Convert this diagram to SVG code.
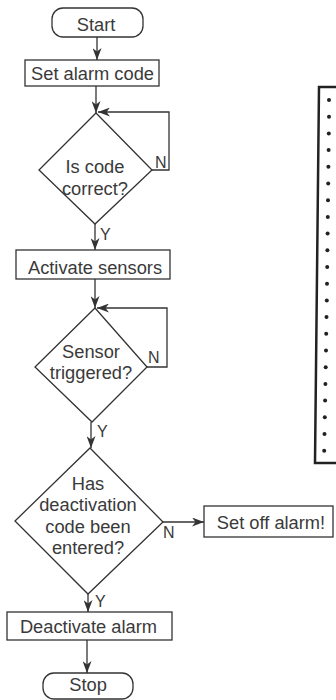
<svg xmlns="http://www.w3.org/2000/svg" width="336" height="700" viewBox="0 0 336 700">
<style>
.box{fill:#fff;stroke:#333;stroke-width:1.3}
.t{font-family:"Liberation Sans",Arial,sans-serif;font-size:18.3px;fill:#3a3a3a;text-anchor:middle}
.l{font-family:"Liberation Sans",Arial,sans-serif;font-size:16px;fill:#3a3a3a}
.c{fill:none;stroke:#333;stroke-width:1.3}
.dot{fill:#222}
</style>
<defs>
<marker id="ah" markerUnits="userSpaceOnUse" markerWidth="12" markerHeight="9" refX="12" refY="4.5" orient="auto">
<path d="M0,0 L12,4.5 L0,9 L3.5,4.5 Z" fill="#333"/>
</marker>
</defs>
<rect width="336" height="700" fill="#fff"/>

<g id="panel">
<path d="M340,87 L319,87 L315,463 L340,463" fill="none" stroke="#222" stroke-width="2.5"/>
<g class="dot">
<circle cx="329" cy="100" r="2"/><circle cx="329" cy="116.7" r="2"/><circle cx="328.8" cy="133.4" r="2"/><circle cx="328.6" cy="150.1" r="2"/>
<circle cx="328.4" cy="166.8" r="2"/><circle cx="328.2" cy="183.5" r="2"/><circle cx="328" cy="200.2" r="2"/><circle cx="327.8" cy="216.9" r="2"/>
<circle cx="327.6" cy="233.6" r="2"/><circle cx="327.4" cy="250.3" r="2"/><circle cx="327.2" cy="267" r="2"/><circle cx="327" cy="283.7" r="2"/>
<circle cx="326.8" cy="300.4" r="2"/><circle cx="326.5" cy="317.1" r="2"/><circle cx="326.2" cy="333.8" r="2"/><circle cx="326" cy="350.5" r="2"/>
<circle cx="325.7" cy="367.2" r="2"/><circle cx="325.4" cy="383.9" r="2"/><circle cx="325.1" cy="400.6" r="2"/><circle cx="324.8" cy="417.3" r="2"/>
<circle cx="324.5" cy="434" r="2"/><circle cx="324.2" cy="450.7" r="2"/>
</g>
</g>

<g id="connectors">
<line class="c" x1="97" y1="37" x2="97" y2="60" marker-end="url(#ah)"/>
<line class="c" x1="96" y1="86" x2="96" y2="113" marker-end="url(#ah)"/>
<polyline class="c" points="152,170 169,170 169,112 98,112" marker-end="url(#ah)"/>
<line class="c" x1="95" y1="224" x2="95" y2="250" marker-end="url(#ah)"/>
<line class="c" x1="95" y1="279" x2="95" y2="308" marker-end="url(#ah)"/>
<polyline class="c" points="147,367 167,367 167,308 97,308" marker-end="url(#ah)"/>
<line class="c" x1="91" y1="422" x2="91" y2="448" marker-end="url(#ah)"/>
<line class="c" x1="163" y1="522" x2="204" y2="522" marker-end="url(#ah)"/>
<line class="c" x1="88" y1="594" x2="88" y2="612" marker-end="url(#ah)"/>
<line class="c" x1="87" y1="640" x2="87" y2="673" marker-end="url(#ah)"/>
<text class="l" x="155" y="168">N</text>
<text class="l" x="100" y="240">Y</text>
<text class="l" x="148" y="363">N</text>
<text class="l" x="97" y="437">Y</text>
<text class="l" x="163" y="538">N</text>
<text class="l" x="95" y="607">Y</text>
</g>

<g id="start">
<rect class="box" x="52" y="8" width="91" height="29" rx="11"/>
<text class="t" x="96" y="31">Start</text>
</g>
<g id="set-code">
<rect class="box" x="25" y="60" width="134" height="26"/>
<text class="t" x="92.5" y="80">Set alarm code</text>
</g>
<g id="code-correct">
<polygon class="box" points="96,113 152,170 95,224 39,170"/>
<text class="t" x="95" y="173">Is code</text>
<text class="t" x="95" y="195">correct?</text>
</g>
<g id="activate">
<rect class="box" x="16" y="250" width="154" height="29"/>
<text class="t" x="95" y="274">Activate sensors</text>
</g>
<g id="sensor-triggered">
<polygon class="box" points="95,308 147,367 92,422 35,367"/>
<text class="t" x="91" y="358">Sensor</text>
<text class="t" x="91" y="379">triggered?</text>
</g>
<g id="deactivation-entered">
<polygon class="box" points="90,448 163,522 88,594 15,521"/>
<text class="t" x="88" y="490">Has</text>
<text class="t" x="88" y="511">deactivation</text>
<text class="t" x="88" y="533">code been</text>
<text class="t" x="88" y="554">entered?</text>
</g>
<g id="set-off">
<rect class="box" x="204" y="506" width="129" height="31"/>
<text class="t" x="271" y="529">Set off alarm!</text>
</g>
<g id="deactivate">
<rect class="box" x="7" y="612" width="165" height="28"/>
<text class="t" x="88.5" y="633">Deactivate alarm</text>
</g>
<g id="stop">
<rect class="box" x="43" y="673" width="90" height="26" rx="11"/>
<text class="t" x="88" y="691">Stop</text>
</g>
</svg>
